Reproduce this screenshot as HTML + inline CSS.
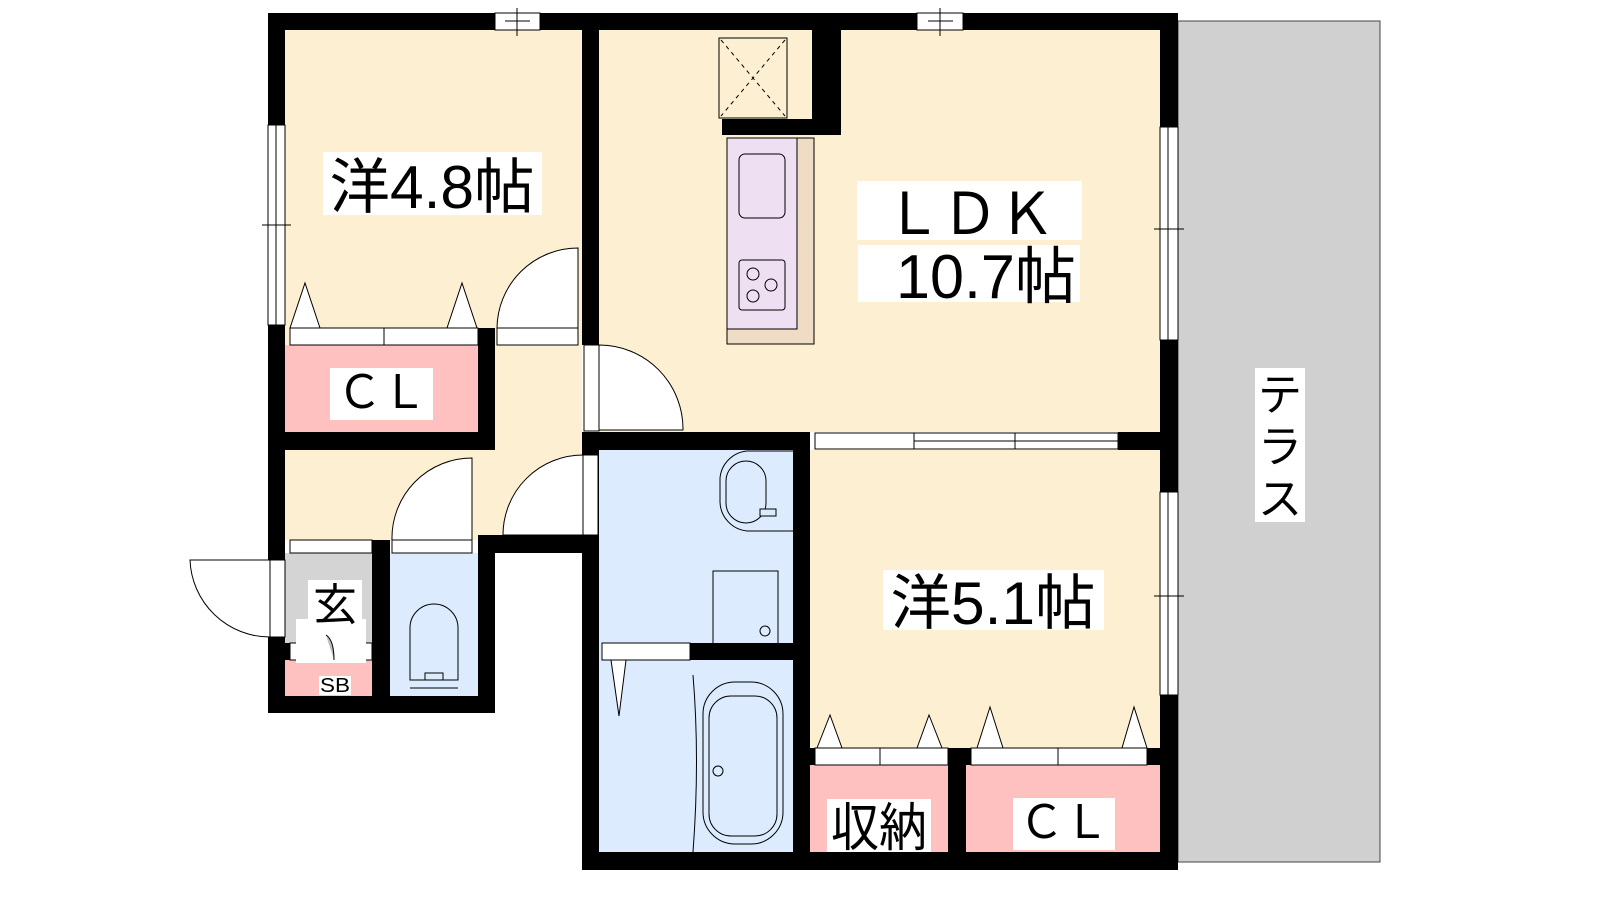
<!DOCTYPE html>
<html><head><meta charset="utf-8"><style>html,body{margin:0;padding:0;background:#fff}svg{display:block}
text{font-family:"Liberation Sans","Noto Sans CJK JP",sans-serif;fill:#000}</style></head><body>
<svg width="1600" height="900" viewBox="0 0 1600 900" xmlns="http://www.w3.org/2000/svg">
<rect x="1178" y="21" width="202" height="841" fill="#d0d0d0" stroke="#444" stroke-width="1"/>
<rect x="285" y="30" width="297" height="315" fill="#fdf0d2"/>
<rect x="599" y="30" width="561" height="402" fill="#fdf0d2"/>
<rect x="285" y="345" width="297" height="195" fill="#fdf0d2"/>
<rect x="810" y="450" width="350" height="300" fill="#fdf0d2"/>
<rect x="285" y="345" width="193" height="87" fill="#ffc0c0"/>
<rect x="810" y="765" width="138" height="87" fill="#ffc0c0"/>
<rect x="966" y="765" width="194" height="87" fill="#ffc0c0"/>
<rect x="285" y="660" width="87" height="36" fill="#ffc0c0"/>
<rect x="285" y="553" width="87" height="107" fill="#d4d4d4"/>
<rect x="390" y="553" width="88" height="143" fill="#dcebfd"/>
<rect x="599" y="450" width="194" height="402" fill="#dcebfd"/>
<g fill="#000">
<rect x="268" y="13" width="910" height="17"/>
<rect x="268" y="13" width="17" height="700"/>
<rect x="268" y="696" width="227" height="17"/>
<rect x="1160" y="13" width="18" height="857"/>
<rect x="582" y="852" width="596" height="18"/>
<rect x="582" y="13" width="17" height="332"/>
<rect x="582" y="432" width="17" height="438"/>
<rect x="582" y="432" width="228" height="18"/>
<rect x="1118" y="432" width="42" height="18"/>
<rect x="268" y="432" width="227" height="18"/>
<rect x="478" y="328" width="17" height="122"/>
<rect x="478" y="535" width="121" height="18"/>
<rect x="372" y="540" width="18" height="173"/>
<rect x="478" y="540" width="17" height="173"/>
<rect x="793" y="432" width="17" height="438"/>
<rect x="690" y="643" width="120" height="17"/>
<rect x="810" y="748" width="350" height="17"/>
<rect x="948" y="748" width="18" height="122"/>
<rect x="812" y="30" width="29" height="105"/>
<rect x="722" y="119" width="119" height="16"/>
<rect x="268" y="643" width="104" height="17"/>
</g>
<g fill="#fff" stroke="#000" stroke-width="1">
<rect x="495" y="13" width="45" height="17"/><line x1="517" y1="8" x2="517" y2="36"/><line x1="505" y1="21" x2="530" y2="21"/>
<rect x="917" y="13" width="46" height="17"/><line x1="940" y1="8" x2="940" y2="36"/><line x1="928" y1="21" x2="953" y2="21"/>
<rect x="268" y="125" width="17" height="200"/><line x1="276" y1="125" x2="276" y2="325"/><line x1="262" y1="225" x2="291" y2="225"/>
<rect x="1160" y="127" width="18" height="213"/><line x1="1168" y1="127" x2="1168" y2="340"/><line x1="1154" y1="229" x2="1184" y2="229"/>
<rect x="1160" y="492" width="18" height="203"/><line x1="1168" y1="492" x2="1168" y2="695"/><line x1="1154" y1="596" x2="1184" y2="596"/>
<rect x="815" y="433" width="303" height="16"/><line x1="914" y1="433" x2="914" y2="449"/><line x1="1015" y1="433" x2="1015" y2="449"/><line x1="914" y1="441" x2="1118" y2="441"/>
<rect x="290" y="328" width="188" height="17"/><line x1="384" y1="328" x2="384" y2="345"/>
<rect x="815" y="748" width="133" height="17"/><line x1="880" y1="748" x2="880" y2="765"/>
<rect x="971" y="748" width="176" height="17"/><line x1="1058" y1="748" x2="1058" y2="765"/>
<rect x="602" y="643" width="88" height="17"/>
<rect x="290" y="540" width="82" height="13"/>
<rect x="392" y="540" width="80" height="13"/>
<rect x="290" y="643" width="82" height="17"/>
<rect x="497" y="328" width="81" height="17"/><path d="M497 328 A81 81 0 0 1 578 248 L578 328 Z"/>
<rect x="584" y="345" width="15" height="86"/><path d="M599 345 A84 84 0 0 1 683 430 L599 430 Z"/>
<rect x="583" y="455" width="15" height="80"/><path d="M503 535 A80 80 0 0 1 583 455 L583 535 Z"/>
<path d="M392 540 A80 80 0 0 1 472 458 L472 540 Z"/>
<rect x="270" y="560" width="15" height="77"/><path d="M270 637 A80 80 0 0 1 190 560 L270 560 Z"/>
<path d="M290 328 L305 283 L320 328 Z M447 328 L462 283 L477 328 Z"/>
<path d="M817 748 L830 715 L842 748 Z M917 748 L929 715 L942 748 Z M977 748 L990 707 L1003 748 Z M1122 748 L1134 707 L1147 748 Z"/>
<path d="M611 660 L619 716 L626 660 Z"/>
</g>
<rect x="719" y="38" width="68" height="80" fill="none" stroke="#000"/>
<path d="M721 40 L785 116 M785 40 L721 116" stroke="#000" stroke-dasharray="4 4"/>
<rect x="727" y="138" width="87" height="206" fill="#eedcc4" stroke="#000"/>
<rect x="727" y="138" width="70" height="191" fill="#eedff2" stroke="#000"/>
<rect x="739" y="154" width="46" height="64" rx="6" fill="none" stroke="#000"/>
<rect x="739" y="260" width="46" height="50" rx="3" fill="none" stroke="#000"/>
<g fill="none" stroke="#000"><circle cx="753" cy="274" r="6"/><circle cx="771" cy="285" r="6"/><circle cx="753" cy="296" r="6"/></g>
<path d="M793 451 L747 451 A30 30 0 0 0 720 478 L720 502 A30 30 0 0 0 747 531 L793 531" fill="none" stroke="#000"/>
<rect x="726" y="461" width="40" height="62" rx="20" fill="none" stroke="#000"/>
<rect x="760" y="509" width="16" height="7" fill="#dcebfd" stroke="#000"/>
<rect x="713" y="571" width="65" height="75" fill="none" stroke="#000"/>
<circle cx="765" cy="631" r="5" fill="none" stroke="#000"/>
<path d="M693 675 Q700 760 693 852" fill="none" stroke="#000"/>
<rect x="703" y="682" width="80" height="162" rx="32" fill="none" stroke="#000"/>
<rect x="709" y="696" width="68" height="140" rx="22" fill="none" stroke="#000"/>
<circle cx="718" cy="771" r="5" fill="none" stroke="#000"/>
<path d="M410 680 L410 628 A24 24 0 0 1 458 628 L458 680 Z" fill="none" stroke="#000"/>
<path d="M410 680 L425 680 L425 673 L443 673 L443 680 L458 680 M410 688 L458 688" fill="none" stroke="#000"/>
<rect x="296" y="619" width="70" height="44" fill="#fff"/>
<path d="M326 635 Q334 640 334 660" fill="#bbb" stroke="#000"/>
<g>
<rect x="323" y="152" width="219" height="63" fill="#fff"/>
<text x="432" y="208" font-size="60" text-anchor="middle" textLength="205" lengthAdjust="spacingAndGlyphs">洋4.8帖</text>
<rect x="857" y="181" width="225" height="59" fill="#fff"/>
<text x="970" y="234" font-size="58" text-anchor="middle" textLength="170" lengthAdjust="spacingAndGlyphs">ＬＤＫ</text>
<rect x="858" y="245" width="222" height="57" fill="#fff"/>
<text x="986" y="298" font-size="62" text-anchor="middle" textLength="180" lengthAdjust="spacingAndGlyphs">10.7帖</text>
<rect x="883" y="570" width="221" height="60" fill="#fff"/>
<text x="993" y="624" font-size="60" text-anchor="middle" textLength="205" lengthAdjust="spacingAndGlyphs">洋5.1帖</text>
<rect x="330" y="368" width="103" height="52" fill="#fff"/>
<text x="382" y="408" font-size="46" text-anchor="middle" textLength="90" lengthAdjust="spacingAndGlyphs">ＣＬ</text>
<rect x="1013" y="798" width="102" height="52" fill="#fff"/>
<text x="1064" y="838" font-size="46" text-anchor="middle" textLength="90" lengthAdjust="spacingAndGlyphs">ＣＬ</text>
<rect x="827" y="799" width="104" height="53" fill="#fff"/>
<text x="879" y="846" font-size="52" text-anchor="middle" textLength="96" lengthAdjust="spacingAndGlyphs">収納</text>
<rect x="308" y="580" width="54" height="48" fill="#fff"/>
<text x="335" y="620" font-size="44" text-anchor="middle">玄</text>
<rect x="319" y="676" width="32" height="19" fill="#fff"/>
<text x="335" y="692" font-size="20" text-anchor="middle" textLength="30" lengthAdjust="spacingAndGlyphs">SB</text>
<rect x="1255" y="368" width="50" height="154" fill="#fff"/>
<text x="1280" y="410" font-size="44" text-anchor="middle">テ</text>
<text x="1280" y="462" font-size="44" text-anchor="middle">ラ</text>
<text x="1280" y="514" font-size="44" text-anchor="middle">ス</text>
</g>
</svg>
</body></html>
